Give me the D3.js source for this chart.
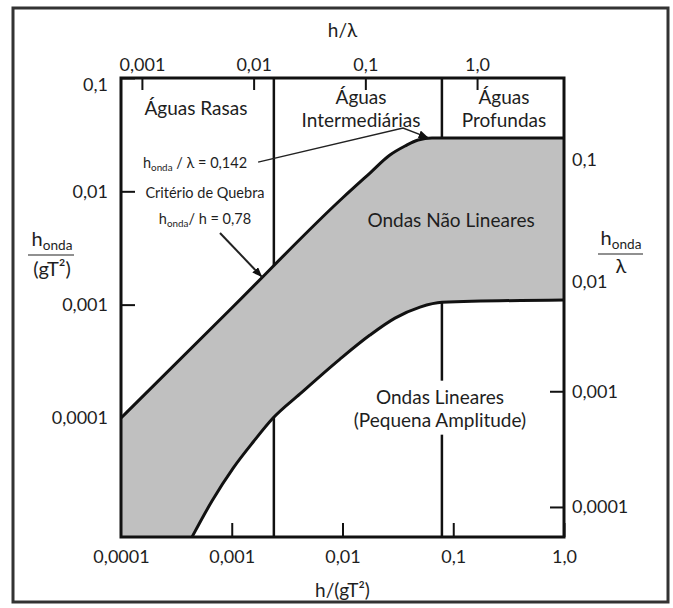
<!DOCTYPE html>
<html>
<head>
<meta charset="utf-8">
<script src="https://cdn.jsdelivr.net/npm/d3@7/dist/d3.min.js"></script>
<style>
  body { margin: 0; background: #fff; }
  text { font-family: Lato, 'Open Sans', sans-serif; fill: #1e1e1e; }
</style>
</head>
<body>
<svg id="chart" width="673" height="608"></svg>
<script>
// eixos: h/(gT²) embaixo, h/λ em cima, h_onda/(gT²) à esquerda, h_onda/λ à direita
const bottomTicks = [0.0001, 0.001, 0.01, 0.1, 1]
const bottomTickLabels = ['0,0001', '0,001', '0,01', '0,1', '1,0']
const topTicks = [0.001, 0.01, 0.1, 1]
const topTickLabels = ['0,001', '0,01', '0,1', '1,0']
const leftTicks = [0.1, 0.01, 0.001, 0.0001]
const leftTickLabels = ['0,1', '0,01', '0,001', '0,0001']
const rightTicks = [0.1, 0.01, 0.001, 0.0001]
const rightTickLabels = ['0,1', '0,01', '0,001', '0,0001']

// limites rasas / intermediárias / profundas, em h/(gT²)
const depthLimits = [0.0024, 0.079]

// curva superior: critério de quebra
const breakX = [0.0001, 0.001, 0.01, 0.0177, 0.0268, 0.0367, 0.0481, 0.0643, 1.0]
const breakY = [0.0001, 0.000933, 0.00873, 0.0145, 0.0209, 0.0251, 0.0284, 0.0296, 0.0296]

// curva inferior: limite das ondas lineares
const linearX = [0.000438, 0.000663, 0.00103, 0.00156, 0.00236, 0.00413, 0.00949, 0.0177, 0.0298, 0.0501, 0.0791, 1.0]
const linearY = [0.0000089, 0.0000185, 0.0000361, 0.0000613, 0.0000998, 0.000163, 0.000331, 0.000539, 0.000761, 0.000952, 0.00105, 0.0011]

const regionLabels = [
  { lines: ['Águas Rasas'], x: 0.000475, y: 0.0543 },
  { lines: ['Águas', 'Intermediárias'], x: 0.0147, y: 0.0679 },
  { lines: ['Águas', 'Profundas'], x: 0.287, y: 0.0679 },
  { lines: ['Ondas Não Lineares'], x: 0.0955, y: 0.00558 },
  { lines: ['Ondas Lineares', '(Pequena Amplitude)'], x: 0.0759, y: 0.000153, bg: true }
]

// setas do critério de quebra
const arrowDeep = [[0.00173, 0.0181], [0.0352, 0.0362], [0.0600, 0.0296]]
const arrowShallow = [[0.000783, 0.00429], [0.00188, 0.00175]]

const W = 673, H = 608
const margin = { top: 78, right: 109, bottom: 71, left: 121 }
const width = W - margin.left - margin.right
const height = H - margin.top - margin.bottom

const svg = d3.select('#chart')
svg.append('rect').attr('width', W).attr('height', H).attr('fill', '#fff')
svg.append('rect')
  .attr('x', 13).attr('y', 8).attr('width', 655).attr('height', 594)
  .attr('fill', 'none').attr('stroke', '#333').attr('stroke-width', 3)

const g = svg.append('g').attr('transform', 'translate(' + margin.left + ',' + margin.top + ')')

const x = d3.scaleLog().domain([0.0001, 1]).range([0, width])
const y = d3.scaleLog().domain([0.0000089, 0.1]).range([height, 0])
const xTop = d3.scaleLog().domain([0.00065, 6.0]).range([0, width])
const yRight = d3.scaleLog().domain([0.000055, 0.51]).range([height, 0])

// linhas verticais de profundidade (ficam sob o preenchimento)
g.selectAll('.depth')
  .data(depthLimits)
  .enter().append('line')
  .attr('x1', d => x(d)).attr('x2', d => x(d))
  .attr('y1', 0).attr('y2', height)
  .attr('stroke', '#111').attr('stroke-width', 2.5)

function styleAxis(sel) {
  sel.select('.domain').remove()
  sel.selectAll('.tick line').attr('stroke', '#111').attr('stroke-width', 2)
  sel.selectAll('.tick text').attr('fill', '#1e1e1e').style('font-size', '18px')
    .style('font-family', "Lato, 'Open Sans', sans-serif")
}

g.append('g')
  .attr('transform', 'translate(0,' + height + ')')
  .call(d3.axisBottom(x).tickValues(bottomTicks)
    .tickFormat((d, i) => bottomTickLabels[i])
    .tickSizeInner(-14).tickSizeOuter(0).tickPadding(13))
  .call(styleAxis)

g.append('g')
  .call(d3.axisTop(xTop).tickValues(topTicks)
    .tickFormat((d, i) => topTickLabels[i])
    .tickSizeInner(-12).tickSizeOuter(0).tickPadding(7))
  .call(styleAxis)

const leftAxis = g.append('g')
  .call(d3.axisLeft(y).tickValues(leftTicks)
    .tickFormat((d, i) => leftTickLabels[i])
    .tickSizeInner(-14).tickSizeOuter(0).tickPadding(13))
  .call(styleAxis)
leftAxis.selectAll('.tick text').filter(d => d === 0.1).attr('dy', '0.7em')

const rightAxis = g.append('g')
  .attr('transform', 'translate(' + width + ',0)')
  .call(d3.axisRight(yRight).tickValues(rightTicks)
    .tickFormat((d, i) => rightTickLabels[i])
    .tickSizeInner(-14).tickSizeOuter(0).tickPadding(8))
  .call(styleAxis)
rightAxis.selectAll('.tick text').filter(d => d === 0.01).attr('dy', '0.66em')

// faixa de ondas não lineares
const breakPts = breakX.map((d, i) => [d, breakY[i]])
const linearPts = linearX.map((d, i) => [d, linearY[i]])
const line = d3.line().x(d => x(d[0])).y(d => y(d[1])).curve(d3.curveMonotoneX)

g.append('clipPath').attr('id', 'below-break')
  .append('path')
  .attr('d', line(breakPts) + 'L' + width + ',' + height + 'L0,' + height + 'Z')

g.append('path')
  .attr('d', line(linearPts) + 'L' + width + ',0L0,0L0,' + height + 'Z')
  .attr('clip-path', 'url(#below-break)')
  .attr('fill', '#c0c0c0')

g.append('path').attr('d', line(breakPts))
  .attr('fill', 'none').attr('stroke', '#111').attr('stroke-width', 3)
g.append('path').attr('d', line(linearPts))
  .attr('fill', 'none').attr('stroke', '#111').attr('stroke-width', 3)

g.append('rect')
  .attr('width', width).attr('height', height)
  .attr('fill', 'none').attr('stroke', '#111').attr('stroke-width', 3)

// setas
svg.append('defs').append('marker')
  .attr('id', 'head').attr('viewBox', '0 0 10 8')
  .attr('refX', 10).attr('refY', 4)
  .attr('markerWidth', 10).attr('markerHeight', 8)
  .attr('markerUnits', 'userSpaceOnUse').attr('orient', 'auto')
  .append('path').attr('d', 'M0,0L10,4L0,8Z').attr('fill', '#111')

const straight = d3.line().x(d => x(d[0])).y(d => y(d[1]))
g.append('path').attr('d', straight(arrowDeep))
  .attr('fill', 'none').attr('stroke', '#222').attr('stroke-width', 1.5)
  .attr('marker-end', 'url(#head)')
g.append('path').attr('d', straight(arrowShallow))
  .attr('fill', 'none').attr('stroke', '#222').attr('stroke-width', 2)
  .attr('marker-end', 'url(#head)')

// rótulos das regiões
const lineH = 23
regionLabels.forEach(lab => {
  const grp = g.append('g')
  const t = grp.append('text')
    .attr('x', x(lab.x)).attr('y', y(lab.y))
    .attr('text-anchor', 'middle').style('font-size', '19px')
  lab.lines.forEach((s, i) => {
    t.append('tspan').attr('x', x(lab.x)).attr('dy', i === 0 ? '0.35em' : lineH).text(s)
  })
  if (lab.bg) {
    const b = t.node().getBBox()
    grp.insert('rect', 'text')
      .attr('x', b.x - 2).attr('y', b.y - 4)
      .attr('width', b.width + 4).attr('height', b.height + 8)
      .attr('fill', '#fff')
  }
})

// texto com subscrito "onda"
function subText(parent, px, py, size, before, after) {
  const t = parent.append('text')
    .attr('x', px).attr('y', py).attr('text-anchor', 'middle')
    .style('font-size', size + 'px')
  t.append('tspan').text(before)
  t.append('tspan').text('onda').style('font-size', (size * 0.68) + 'px').attr('dy', size * 0.2)
  if (after) t.append('tspan').text(after).attr('dy', -size * 0.2)
  return t
}

subText(g, x(0.000466), y(0.0178) + 5, 14.5, 'h', ' / λ = 0,142')
g.append('text').attr('x', x(0.000573)).attr('y', y(0.00966)).attr('dy', '0.35em')
  .attr('text-anchor', 'middle').style('font-size', '14.5px').text('Critério de Quebra')
subText(g, x(0.000573), y(0.0057) + 5, 14.5, 'h', '/ h = 0,78')

// títulos dos eixos
svg.append('text').attr('x', margin.left + width / 2).attr('y', 30).attr('dy', '0.35em')
  .attr('text-anchor', 'middle').style('font-size', '19px').text('h/λ')
svg.append('text').attr('x', margin.left + width / 2).attr('y', 590).attr('dy', '0.35em')
  .attr('text-anchor', 'middle').style('font-size', '19px').text('h/(gT²)')

subText(svg, 52, 246, 20, 'h', '')
svg.append('line').attr('x1', 28).attr('x2', 74).attr('y1', 255).attr('y2', 255)
  .attr('stroke', '#222').attr('stroke-width', 1.2)
svg.append('text').attr('x', 52).attr('y', 276).attr('text-anchor', 'middle')
  .style('font-size', '20px').text('(gT²)')

subText(svg, 621, 245, 20, 'h', '')
svg.append('line').attr('x1', 598).attr('x2', 643).attr('y1', 254).attr('y2', 254)
  .attr('stroke', '#222').attr('stroke-width', 1.2)
svg.append('text').attr('x', 621).attr('y', 273).attr('text-anchor', 'middle')
  .style('font-size', '20px').text('λ')
</script>
</body>
</html>
